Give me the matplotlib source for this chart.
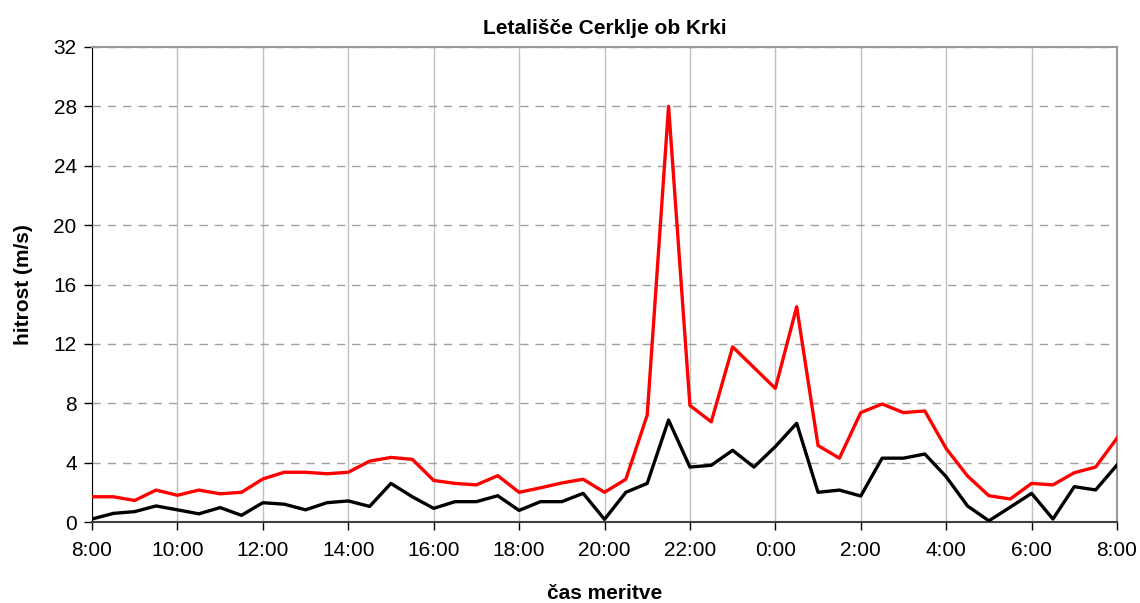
import numpy as np
import matplotlib
matplotlib.use("Agg")
import matplotlib.pyplot as plt

plt.rcParams['font.family'] = ['Liberation Sans', 'DejaVu Sans']

# measurements every 30 min, from 8:00 to 8:00 next day
hours = np.arange(49) * 0.5
gust = [1.7, 1.7, 1.45, 2.15, 1.8, 2.15, 1.9, 2.0, 2.9, 3.35,
        3.35, 3.25, 3.35, 4.1, 4.35, 4.22, 2.8, 2.6, 2.5, 3.12,
        2.0, 2.3, 2.63, 2.88, 2.0, 2.88, 7.2, 28.0, 7.85, 6.75,
        11.8, 10.4, 9.0, 14.5, 5.15, 4.3, 7.37, 7.95, 7.37, 7.48,
        4.95, 3.1, 1.77, 1.55, 2.6, 2.5, 3.32, 3.7, 5.65]
mean = [0.2, 0.58, 0.7, 1.08, 0.82, 0.55, 0.97, 0.45, 1.3, 1.2,
        0.82, 1.3, 1.42, 1.05, 2.6, 1.7, 0.92, 1.37, 1.37, 1.77,
        0.78, 1.37, 1.37, 1.93, 0.18, 2.0, 2.6, 6.87, 3.7, 3.82,
        4.83, 3.7, 5.08, 6.65, 2.0, 2.15, 1.75, 4.3, 4.3, 4.58,
        3.05, 1.08, 0.08, 1.0, 1.93, 0.2, 2.38, 2.16, 3.84]
xticks = np.arange(0, 25, 2)
xlabels = ["%d:00" % ((8 + t) % 24) for t in xticks]

fig = plt.figure(figsize=(11.4, 6.03), dpi=100)
ax = fig.add_axes([92 / 1140, 1 - 522 / 603, 1025 / 1140, 475 / 603])

ax.plot(hours, gust, color='#ff0000', lw=2.4, zorder=3)
ax.plot(hours, mean, color='#000000', lw=2.4, zorder=3)

ax.set_xlim(0, 24)
ax.set_ylim(0, 32)
ax.set_xticks(xticks)
ax.set_xticklabels(xlabels)
ax.set_yticks(np.arange(0, 33, 4))
ax.tick_params(labelsize=15, length=6, width=1, direction='out', pad=8)
ax.tick_params(axis='y', pad=5)

ax.xaxis.grid(True, color='#c0c0c0', lw=1, ls='-')
ax.yaxis.grid(True, color='#a0a0a0', lw=1, ls=(0, (6, 5)))
ax.set_axisbelow(True)

ax.spines['left'].set_color('black')
ax.spines['bottom'].set_color('#404040')
ax.spines['bottom'].set_linewidth(1.5)
ax.spines['top'].set_color('#999999')
ax.spines['right'].set_color('#999999')
ax.spines['top'].set_linewidth(1.5)
ax.spines['right'].set_linewidth(1.5)

ax.set_title("Letališče Cerklje ob Krki", fontsize=15, fontweight='bold', pad=9)
ax.set_xlabel("čas meritve", fontsize=15, fontweight='bold', labelpad=17)
ax.set_ylabel("hitrost (m/s)", fontsize=15, fontweight='bold', labelpad=15)

fig.savefig("out.png", dpi=100)
